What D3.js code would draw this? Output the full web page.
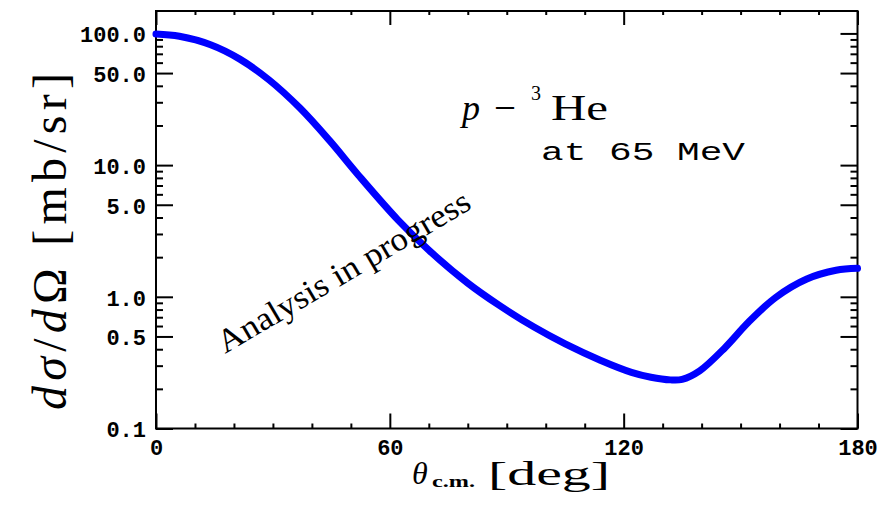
<!DOCTYPE html>
<html>
<head>
<meta charset="utf-8">
<script src="https://cdn.jsdelivr.net/npm/d3@7"></script>
<style>
  html, body { margin: 0; padding: 0; background: #fff; }
  svg { display: block; }
</style>
</head>
<body>
<div id="chart"></div>
<script>
// ---- data ----
const theta = [0, 6, 14, 21.5, 29, 37, 44.5, 52, 62, 70, 80, 88, 97, 105, 114, 122, 127, 132, 135, 139.5, 146, 152, 159, 167, 174.5, 180];
const xsec  = [99, 95.1, 82.0, 63.8, 44.4, 27.0, 15.4, 8.35, 3.86, 2.26, 1.27, 0.864, 0.589, 0.439, 0.330, 0.267, 0.245, 0.234, 0.236, 0.274, 0.411, 0.640, 0.989, 1.365, 1.59, 1.645];

const xDomain = [0, 180];
const yDomain = [0.1, 148];
const xMajorTicks = [0, 60, 120, 180];
const xTickLabels = ["0", "60", "120", "180"];
const xMinorTicks = [10, 20, 30, 40, 50, 70, 80, 90, 100, 110, 130, 140, 150, 160, 170];
const yLabelTicks = [0.1, 0.5, 1, 5, 10, 50, 100];
const yTickLabels = ["0.1", "0.5", "1.0", "5.0", "10.0", "50.0", "100.0"];
const yMinorTicks = [0.2, 0.3, 0.4, 0.6, 0.7, 0.8, 0.9, 2, 3, 4, 6, 7, 8, 9, 20, 30, 40, 60, 70, 80, 90];

const W = 894, H = 519;
const L = 156, R = 857.5, T = 11, B = 428.5;

const svg = d3.select("#chart").append("svg").attr("width", W).attr("height", H);
svg.append("rect").attr("width", W).attr("height", H).attr("fill", "#fff");

const x = d3.scaleLinear().domain(xDomain).range([L, R]);
const y = d3.scaleLog().domain(yDomain).range([B, T]);

const tickFont = "'Liberation Mono', 'Courier New', monospace";

function styleAxis(g) {
  g.select(".domain").remove();
  g.selectAll(".tick line").attr("stroke", "#000").attr("stroke-width", 2);
  g.selectAll("text").attr("fill", "#000").attr("font-family", tickFont)
    .attr("font-size", 22).attr("font-weight", "bold");
}

// bottom axis
const xFmt = d => xTickLabels[xMajorTicks.indexOf(d)];
svg.append("g").attr("transform", `translate(0,${B})`)
  .call(d3.axisBottom(x).tickValues(xMajorTicks).tickSize(-15).tickPadding(11).tickFormat(xFmt))
  .call(styleAxis);
svg.append("g").attr("transform", `translate(0,${B})`)
  .call(d3.axisBottom(x).tickValues(xMinorTicks).tickSize(-5).tickFormat(""))
  .call(styleAxis);
// top axis
svg.append("g").attr("transform", `translate(0,${T})`)
  .call(d3.axisTop(x).tickValues(xMajorTicks).tickSize(-14).tickFormat(""))
  .call(styleAxis);
svg.append("g").attr("transform", `translate(0,${T})`)
  .call(d3.axisTop(x).tickValues(xMinorTicks).tickSize(-4).tickFormat(""))
  .call(styleAxis);

// left axis
const yFmt = d => yTickLabels[yLabelTicks.indexOf(d)];
const gl = svg.append("g").attr("transform", `translate(${L},0)`)
  .call(d3.axisLeft(y).tickValues(yLabelTicks).tickSize(-17).tickPadding(10).tickFormat(yFmt))
  .call(styleAxis);
gl.selectAll("text").attr("dy", "0.38em");
svg.append("g").attr("transform", `translate(${L},0)`)
  .call(d3.axisLeft(y).tickValues(yMinorTicks).tickSize(-7).tickFormat(""))
  .call(styleAxis);
// right axis
svg.append("g").attr("transform", `translate(${R},0)`)
  .call(d3.axisRight(y).tickValues(yLabelTicks).tickSize(-17).tickFormat(""))
  .call(styleAxis);
svg.append("g").attr("transform", `translate(${R},0)`)
  .call(d3.axisRight(y).tickValues(yMinorTicks).tickSize(-7).tickFormat(""))
  .call(styleAxis);

// frame
svg.append("rect").attr("x", L).attr("y", T).attr("width", R - L).attr("height", B - T)
  .attr("fill", "none").attr("stroke", "#000").attr("stroke-width", 2);

// curve
const pts = theta.map((t, i) => [t, xsec[i]]);
const line = d3.line().x(d => x(d[0])).y(d => y(d[1])).curve(d3.curveCatmullRom.alpha(0.5));
svg.append("path").datum(pts).attr("d", line)
  .attr("fill", "none").attr("stroke", "#0000ff").attr("stroke-width", 7)
  .attr("stroke-linecap", "round").attr("stroke-linejoin", "round");

const serif = "'Liberation Serif', 'Times New Roman', serif";

// "Analysis in progress"
svg.append("text")
  .attr("transform", "translate(225,354) rotate(-30.5)")
  .attr("font-family", serif).attr("font-size", 33).attr("fill", "#000")
  .attr("textLength", 288).attr("lengthAdjust", "spacingAndGlyphs")
  .text("Analysis in progress");

// annotation p-3He
const ann = svg.append("g").attr("font-family", serif).attr("fill", "#000");
ann.append("text").attr("x", 462).attr("y", 120).attr("font-size", 36)
  .attr("font-style", "italic").text("p");
ann.append("text").attr("x", 494).attr("y", 121).attr("font-size", 40)
  .attr("textLength", 22).attr("lengthAdjust", "spacingAndGlyphs").text("\u2212");
ann.append("text").attr("x", 531).attr("y", 100).attr("font-size", 20).text("3");
ann.append("text").attr("x", 551).attr("y", 120).attr("font-size", 35)
  .attr("textLength", 57).attr("lengthAdjust", "spacingAndGlyphs").text("He");

svg.append("text").attr("x", 541).attr("y", 160)
  .attr("font-family", tickFont).attr("font-size", 26).attr("fill", "#000")
  .attr("textLength", 204).attr("lengthAdjust", "spacingAndGlyphs")
  .text("at 65 MeV");

// x axis title
const xt = svg.append("g").attr("font-family", serif).attr("fill", "#000");
xt.append("text").attr("x", 412).attr("y", 484).attr("font-size", 32)
  .attr("font-style", "italic").text("\u03b8");
xt.append("text").attr("x", 432).attr("y", 487).attr("font-size", 16)
  .attr("font-weight", "bold").attr("textLength", 43).attr("lengthAdjust", "spacingAndGlyphs").text("c.m.");
xt.append("text").attr("x", 488).attr("y", 485).attr("font-size", 33)
  .attr("textLength", 122).attr("lengthAdjust", "spacingAndGlyphs").text("[deg]");

// y axis title
const yt = svg.append("text").attr("transform", "translate(66,410) rotate(-90)")
  .attr("font-family", serif).attr("font-size", 48).attr("fill", "#000")
  .attr("textLength", 337).attr("lengthAdjust", "spacing");
yt.append("tspan").attr("font-style", "italic").text("d\u03c3");
yt.append("tspan").text("/");
yt.append("tspan").attr("font-style", "italic").text("d");
yt.append("tspan").text("\u03a9 [mb/sr]");
</script>
</body>
</html>
